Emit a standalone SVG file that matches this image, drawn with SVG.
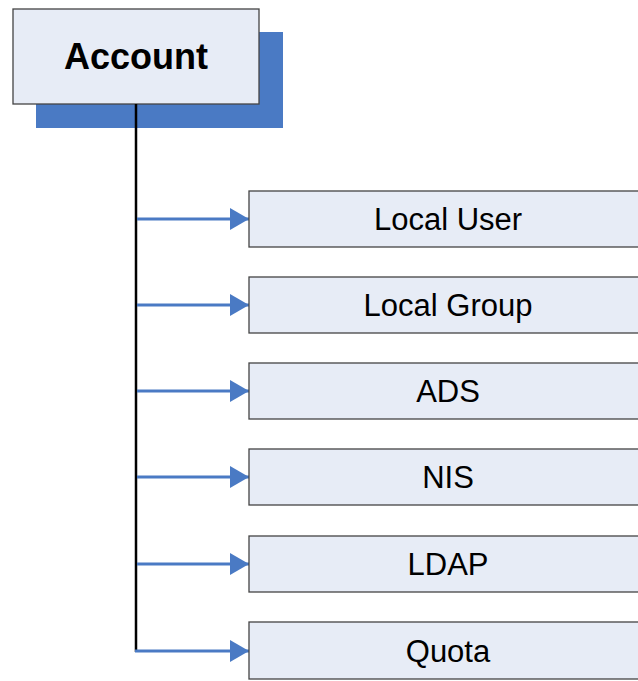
<svg xmlns="http://www.w3.org/2000/svg" width="638" height="681" viewBox="0 0 638 681">
<style>
.box{fill:#E7ECF6;stroke:#444;stroke-width:1.3}
.lbl{font-family:"Liberation Sans",Arial,sans-serif;font-size:31px;fill:#000;text-anchor:middle}
.arr{stroke:#4A7AC4;stroke-width:3;fill:none}
</style>
<defs>
<marker id="ah" markerUnits="userSpaceOnUse" markerWidth="20" markerHeight="22" refX="19" refY="11" orient="auto">
<path d="M0,0 L19,11 L0,22 Z" fill="#4A7AC4"/>
</marker>
</defs>
<g id="account">
<rect x="36" y="32" width="247" height="96" fill="#4A7AC4"/>
<rect class="box" x="13" y="9" width="246" height="95"/>
<text x="136" y="69" font-family="Liberation Sans,Arial,sans-serif" font-size="36" font-weight="bold" text-anchor="middle">Account</text>
</g>
<g id="connectors">
<line x1="136" y1="104" x2="136" y2="652" stroke="#000" stroke-width="2.5"/>
<line class="arr" x1="137" y1="219" x2="249" y2="219" marker-end="url(#ah)"/>
<line class="arr" x1="137" y1="305" x2="249" y2="305" marker-end="url(#ah)"/>
<line class="arr" x1="137" y1="391" x2="249" y2="391" marker-end="url(#ah)"/>
<line class="arr" x1="137" y1="477" x2="249" y2="477" marker-end="url(#ah)"/>
<line class="arr" x1="137" y1="564" x2="249" y2="564" marker-end="url(#ah)"/>
<line class="arr" x1="135" y1="651" x2="249" y2="651" marker-end="url(#ah)"/>
</g>
<g id="local-user"><rect class="box" x="249" y="191" width="395" height="56"/><text class="lbl" x="448" y="230">Local User</text></g>
<g id="local-group"><rect class="box" x="249" y="277" width="395" height="56"/><text class="lbl" x="448" y="316">Local Group</text></g>
<g id="ads"><rect class="box" x="249" y="363" width="395" height="56"/><text class="lbl" x="448" y="402">ADS</text></g>
<g id="nis"><rect class="box" x="249" y="449" width="395" height="56"/><text class="lbl" x="448" y="488">NIS</text></g>
<g id="ldap"><rect class="box" x="249" y="536" width="395" height="56"/><text class="lbl" x="448" y="575">LDAP</text></g>
<g id="quota"><rect class="box" x="249" y="622" width="395" height="57"/><text class="lbl" x="448" y="662">Quota</text></g>
</svg>
